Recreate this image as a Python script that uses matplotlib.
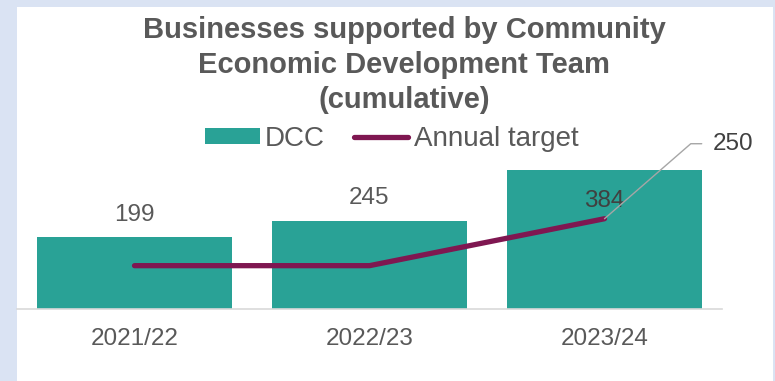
import matplotlib
matplotlib.use("Agg")
import matplotlib.pyplot as plt
from matplotlib.patches import Rectangle

plt.rcParams["font.family"] = ["Liberation Sans", "DejaVu Sans"]

years = ["2021/22", "2022/23", "2023/24"]
dcc = [199, 245, 384]
annual_target = [120, 120, 250]

TEAL = "#29a296"
PLUM = "#7f1751"
GREY_TEXT = "#595959"
DARK_TEXT = "#404040"

W, H = 775, 381
fig = plt.figure(figsize=(W / 100, H / 100), dpi=100, facecolor="#dae3f3")

# white chart panel inside the light blue frame
fig.add_artist(Rectangle((17 / W, 0), (773 - 17) / W, (H - 7) / H,
                         transform=fig.transFigure, facecolor="white",
                         edgecolor="none", zorder=0))

ymax = 450
ax = fig.add_axes([17 / W, 72 / H, (722 - 17) / W, 162.5 / H])
ax.set_facecolor("none")

x = range(len(years))
bars = ax.bar(x, dcc, width=0.834, color=TEAL, label="DCC", zorder=2)
line, = ax.plot(x, annual_target, color=PLUM, lw=3.8, solid_capstyle="round",
                label="Annual target", zorder=3)

ax.set_xlim(-0.5, len(years) - 0.5)
ax.set_ylim(0, ymax)
ax.set_xticks(list(x))
ax.set_xticklabels(years)
ax.set_yticks([])
ax.tick_params(axis="x", length=0, pad=14, labelsize=17.5, labelcolor=GREY_TEXT)
for side in ["left", "right", "top"]:
    ax.spines[side].set_visible(False)
ax.spines["bottom"].set_color("#d9d9d9")
ax.spines["bottom"].set_linewidth(1.2)

# bar value labels; tall bars get the label pulled inside the bar
for xi, v in zip(x, dcc):
    inside = v > 0.8 * ymax
    ax.annotate(str(v), (xi, v), xytext=(0, -22 if inside else 16),
                textcoords="offset points", ha="center", va="center",
                fontsize=17.5, color=DARK_TEXT if inside else GREY_TEXT,
                zorder=4)

# last target value with a leader line
ax.annotate(str(annual_target[-1]), (x[-1], annual_target[-1]),
            xytext=(78, 54), textcoords="offset points",
            ha="left", va="center", fontsize=17.5, color=DARK_TEXT,
            annotation_clip=False, zorder=5,
            arrowprops=dict(arrowstyle="-", color="#a6a6a6", lw=1,
                            shrinkA=6, shrinkB=0, relpos=(0, 0.5),
                            connectionstyle="angle,angleA=0,angleB=41,rad=0"))

fig.text(404 / W, 1 - 65 / H,
         "Businesses supported by Community\nEconomic Development Team\n(cumulative)",
         ha="center", va="center", fontsize=21, fontweight="bold",
         color=GREY_TEXT, linespacing=1.32)

fig.legend(handles=[bars, line], loc="center", ncol=2,
           bbox_to_anchor=(392 / W, 1 - 139 / H), frameon=False,
           fontsize=20, labelcolor=GREY_TEXT, handlelength=1.95,
           handleheight=0.52, handletextpad=0.2, columnspacing=1.05,
           borderpad=0, borderaxespad=0)

fig.savefig("out.png", dpi=100, facecolor=fig.get_facecolor())
